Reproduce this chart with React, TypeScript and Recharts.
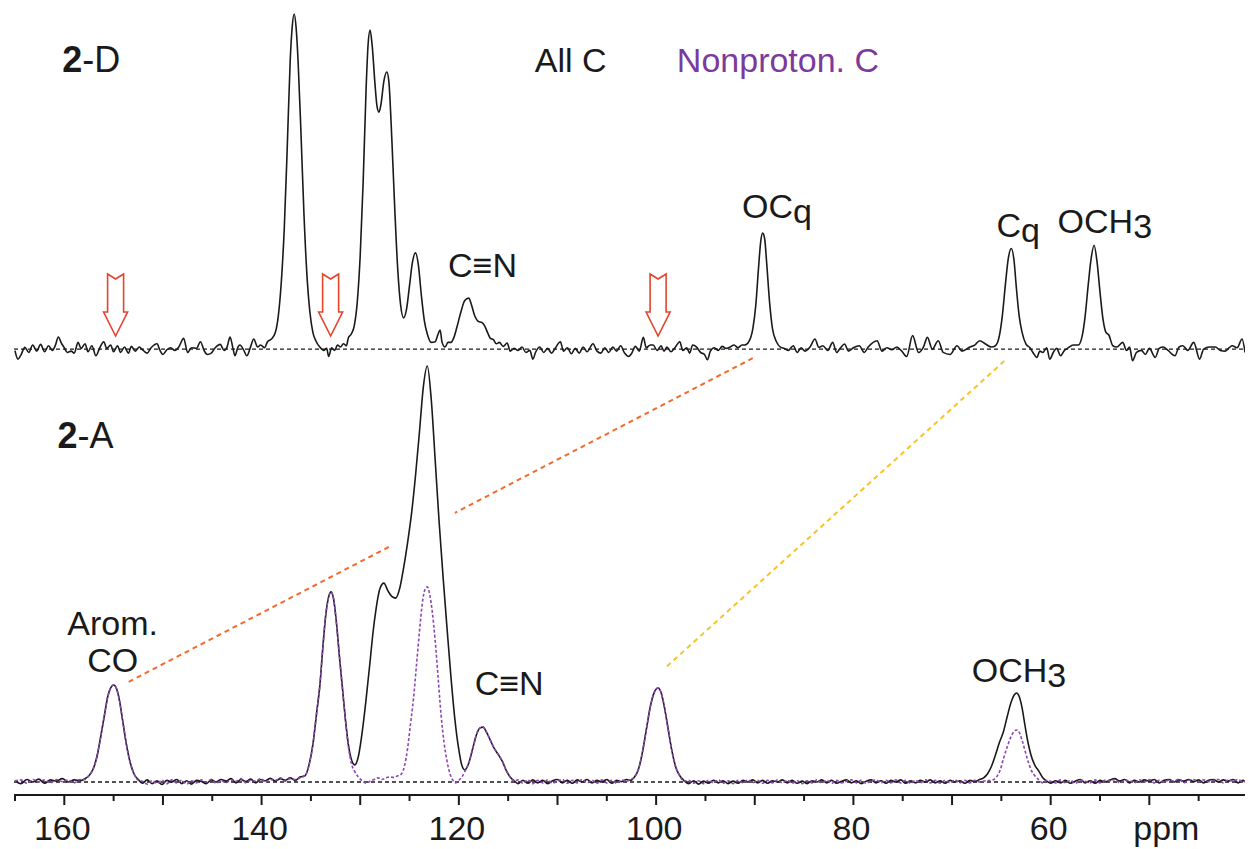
import { ComposedChart, Line, XAxis, YAxis, ReferenceLine, ReferenceDot } from "recharts";

// chemical shift (ppm) / normalized intensity pairs
const topTrace: [number, number][] = [
  [165.0, -0.005], [164.7, -0.03], [164.4, -0.018], [164.0, 0.005], [163.6, -0.01], [163.2, 0.012], [162.8, -0.006], [162.4, 0.014],
  [162.0, -0.008], [161.6, 0.01], [161.2, -0.004], [160.9, 0.012], [160.6, 0.036], [160.3, 0.018], [160.0, 0.004], [159.7, -0.01],
  [159.3, -0.006], [159.0, -0.012], [158.6, 0.02], [158.3, 0.002], [157.9, 0.016], [157.6, -0.008], [157.2, 0.01], [156.8, -0.02],
  [156.4, 0.004], [156.0, 0.022], [155.7, 0.002], [155.3, 0.012], [155.0, -0.008], [154.6, 0.01], [154.3, -0.01], [153.9, 0.006],
  [153.5, -0.012], [153.2, 0.008], [152.8, -0.006], [152.4, 0.006], [152.0, -0.004], [151.6, -0.012], [151.2, 0.004], [150.6, 0.016],
  [150.3, -0.004], [150.0, -0.016], [149.6, -0.002], [149.2, 0.004], [148.8, -0.004], [148.4, 0.006], [147.9, 0.032], [147.5, -0.01],
  [147.1, 0.004], [146.6, 0.002], [146.2, 0.022], [145.8, -0.006], [145.5, -0.016], [145.1, -0.012], [144.7, 0.004], [144.2, 0.014],
  [143.8, -0.004], [143.5, 0.006], [143.2, 0.036], [142.9, 0.002], [142.7, -0.02], [142.4, 0.006], [142.2, 0.012], [141.8, -0.004],
  [141.5, -0.02], [141.1, 0.008], [140.8, 0.03], [140.4, 0.006], [140.1, 0.012], [139.7, 0.004], [139.4, 0.022], [139.0, 0.03],
  [138.6, 0.05], [138.3, 0.1], [138.0, 0.2], [137.7, 0.36], [137.4, 0.6], [137.1, 0.86], [136.9, 0.96], [136.7, 1.0],
  [136.5, 0.96], [136.3, 0.86], [136.0, 0.64], [135.7, 0.4], [135.4, 0.22], [135.1, 0.11], [134.8, 0.05], [134.5, 0.025],
  [134.1, 0.006], [133.7, -0.004], [133.4, 0.002], [133.2, -0.022], [132.9, 0.004], [132.6, -0.004], [132.3, 0.012], [132.0, 0.006],
  [131.7, 0.016], [131.4, 0.01], [131.2, 0.034], [130.9, 0.045], [130.6, 0.07], [130.3, 0.14], [130.0, 0.28], [129.7, 0.5],
  [129.4, 0.78], [129.2, 0.91], [129.0, 0.952], [128.8, 0.91], [128.5, 0.79], [128.3, 0.725], [128.1, 0.707], [127.9, 0.73],
  [127.6, 0.8], [127.3, 0.827], [127.1, 0.8], [126.8, 0.63], [126.5, 0.42], [126.2, 0.24], [125.9, 0.13], [125.6, 0.093],
  [125.3, 0.12], [125.0, 0.19], [124.7, 0.26], [124.4, 0.287], [124.1, 0.25], [123.8, 0.16], [123.5, 0.085], [123.2, 0.045],
  [122.8, 0.02], [122.4, 0.022], [122.1, 0.045], [121.9, 0.057], [121.7, 0.02], [121.4, 0.006], [121.1, 0.02], [120.8, 0.02],
  [120.5, 0.035], [120.2, 0.065], [119.8, 0.11], [119.4, 0.145], [119.0, 0.152], [118.7, 0.13], [118.4, 0.1], [118.0, 0.082],
  [117.7, 0.08], [117.4, 0.07], [117.1, 0.05], [116.8, 0.032], [116.5, 0.028], [116.2, 0.016], [115.9, 0.02], [115.5, 0.008],
  [115.1, 0.018], [114.8, -0.006], [114.4, 0.002], [114.0, -0.004], [113.6, 0.006], [113.2, -0.01], [112.8, -0.004], [112.5, -0.03],
  [112.2, -0.008], [111.8, 0.006], [111.4, -0.01], [111.0, 0.002], [110.6, -0.012], [110.2, 0.004], [109.7, 0.022], [109.4, -0.006],
  [109.0, 0.004], [108.6, -0.014], [108.2, 0.002], [107.8, -0.012], [107.4, 0.006], [107.0, -0.008], [106.4, 0.016], [106.0, -0.006],
  [105.6, -0.012], [105.2, 0.004], [104.8, -0.01], [104.4, 0.006], [104.0, -0.006], [103.6, 0.01], [103.2, -0.012], [102.8, -0.022],
  [102.5, -0.014], [102.1, 0.008], [101.7, -0.006], [101.3, 0.035], [101.0, 0.004], [100.6, 0.012], [100.3, 0.012], [99.9, -0.004],
  [99.5, 0.01], [99.2, -0.006], [98.9, 0.006], [98.5, -0.008], [98.1, 0.004], [97.6, 0.022], [97.3, -0.004], [96.9, 0.004],
  [96.6, -0.012], [96.3, 0.012], [95.9, 0.006], [95.5, -0.01], [95.1, -0.016], [94.8, -0.032], [94.5, -0.006], [94.1, 0.004],
  [93.7, -0.004], [93.3, 0.008], [92.9, 0.002], [92.5, 0.006], [92.1, 0.012], [91.7, 0.004], [91.3, 0.012], [91.0, 0.012],
  [90.6, 0.022], [90.2, 0.06], [89.9, 0.13], [89.6, 0.25], [89.4, 0.32], [89.2, 0.346], [89.0, 0.33], [88.8, 0.26],
  [88.5, 0.14], [88.2, 0.06], [87.8, 0.022], [87.4, 0.006], [87.0, 0.002], [86.6, -0.004], [86.1, 0.01], [85.7, -0.01],
  [85.3, 0.004], [84.9, -0.006], [84.4, 0.006], [83.9, 0.03], [83.5, 0.005], [83.1, 0.01], [82.6, -0.004], [82.1, 0.02],
  [81.7, -0.01], [81.3, 0.004], [80.9, 0.015], [80.5, -0.006], [80.0, 0.004], [79.4, 0.01], [78.9, -0.01], [78.5, 0.006],
  [77.6, 0.025], [77.1, -0.006], [76.6, 0.004], [76.1, -0.002], [75.6, 0.006], [75.1, -0.006], [74.6, -0.022], [74.0, 0.04],
  [73.4, -0.01], [72.9, 0.006], [72.5, 0.035], [72.0, 0.0], [71.4, 0.025], [70.9, -0.01], [70.2, -0.016], [69.5, 0.01],
  [69.0, -0.006], [68.2, 0.006], [67.7, 0.012], [67.2, 0.025], [66.6, 0.015], [66.0, 0.006], [65.6, 0.01], [65.2, 0.04],
  [64.9, 0.1], [64.6, 0.19], [64.3, 0.27], [64.0, 0.3], [63.7, 0.26], [63.5, 0.19], [63.2, 0.1], [62.9, 0.05],
  [62.5, 0.015], [62.1, 0.004], [61.8, -0.01], [61.4, -0.025], [61.1, -0.006], [60.8, -0.01], [60.4, 0.004], [60.1, -0.03],
  [59.7, -0.008], [59.4, 0.002], [59.0, -0.02], [58.6, -0.004], [58.3, 0.002], [57.7, 0.012], [57.2, 0.012], [56.8, 0.04],
  [56.5, 0.1], [56.2, 0.19], [55.9, 0.27], [55.6, 0.31], [55.3, 0.26], [55.0, 0.17], [54.7, 0.09], [54.4, 0.05],
  [54.1, 0.042], [53.7, 0.01], [53.3, 0.006], [52.7, 0.02], [52.3, -0.004], [52.0, 0.006], [51.7, -0.035], [51.3, -0.01],
  [50.8, -0.004], [50.4, -0.016], [50.0, 0.002], [49.4, -0.025], [49.0, 0.002], [48.6, 0.006], [48.1, -0.004], [47.4, -0.02],
  [47.0, 0.006], [46.6, 0.01], [46.1, -0.004], [45.5, 0.02], [44.9, -0.03], [44.5, 0.0], [43.9, 0.006], [43.3, 0.006],
  [42.8, -0.004], [42.3, -0.006], [41.9, 0.004], [41.6, 0.01], [41.1, 0.004], [40.6, 0.03], [40.3, -0.01],
];

const bottomAllC: [number, number][] = [
  [165.0, 0.004], [164.4, -0.004], [163.8, 0.006], [163.2, 0.0], [162.6, 0.007], [162.0, -0.003], [161.4, 0.005], [160.8, 0.002],
  [160.2, 0.008], [159.6, 0.0], [159.0, 0.005], [158.4, 0.003], [157.9, 0.008], [157.5, 0.015], [157.1, 0.03], [156.7, 0.06],
  [156.3, 0.11], [155.9, 0.165], [155.6, 0.205], [155.3, 0.226], [155.0, 0.233], [154.7, 0.224], [154.4, 0.195], [154.1, 0.15],
  [153.7, 0.09], [153.3, 0.045], [152.9, 0.018], [152.5, 0.006], [152.1, -0.003], [151.6, 0.005], [151.1, -0.004], [150.6, 0.003],
  [150.1, -0.006], [149.6, 0.004], [149.1, 0.0], [148.6, 0.006], [148.1, -0.004], [147.6, 0.003], [147.1, -0.005], [146.6, 0.004],
  [146.1, 0.001], [145.6, -0.004], [145.1, 0.005], [144.6, 0.0], [144.1, 0.006], [143.6, 0.002], [143.1, 0.008], [142.6, -0.002],
  [142.1, 0.006], [141.6, 0.001], [141.1, 0.007], [140.6, -0.002], [140.1, 0.006], [139.6, 0.003], [139.1, 0.009], [138.6, 0.002],
  [138.1, 0.008], [137.6, 0.004], [137.1, 0.01], [136.6, 0.004], [136.1, 0.012], [135.6, 0.015], [135.2, 0.04], [134.8, 0.09],
  [134.4, 0.17], [134.1, 0.23], [133.8, 0.32], [133.5, 0.4], [133.2, 0.445], [132.95, 0.457], [132.7, 0.44], [132.4, 0.38],
  [132.1, 0.3], [131.8, 0.225], [131.5, 0.15], [131.2, 0.09], [130.9, 0.055], [130.55, 0.041], [130.2, 0.06], [129.8, 0.12],
  [129.4, 0.2], [129.0, 0.29], [128.7, 0.36], [128.4, 0.415], [128.0, 0.465], [127.6, 0.478], [127.2, 0.46], [126.8, 0.446],
  [126.4, 0.442], [126.0, 0.465], [125.6, 0.515], [125.2, 0.575], [124.8, 0.645], [124.4, 0.735], [124.0, 0.84], [123.6, 0.95],
  [123.2, 1.0], [122.8, 0.92], [122.4, 0.774], [122.0, 0.625], [121.6, 0.493], [121.2, 0.37], [120.8, 0.252], [120.4, 0.15],
  [120.0, 0.077], [119.7, 0.04], [119.4, 0.029], [119.0, 0.045], [118.6, 0.08], [118.2, 0.115], [117.85, 0.13], [117.55, 0.132],
  [117.2, 0.12], [116.8, 0.1], [116.4, 0.08], [116.0, 0.066], [115.6, 0.05], [115.2, 0.028], [114.8, 0.012], [114.4, 0.003],
  [114.0, -0.004], [113.5, 0.004], [113.0, -0.003], [112.5, 0.005], [112.0, -0.002], [111.5, 0.004], [111.0, -0.004], [110.5, 0.003],
  [110.0, 0.006], [109.5, -0.002], [109.0, 0.004], [108.5, -0.003], [108.0, 0.005], [107.5, 0.0], [107.0, 0.006], [106.5, -0.002],
  [106.0, 0.004], [105.5, 0.0], [105.0, 0.006], [104.5, -0.003], [104.0, 0.004], [103.5, 0.001], [103.0, 0.006], [102.6, 0.004],
  [102.2, 0.012], [101.8, 0.03], [101.4, 0.07], [101.0, 0.125], [100.6, 0.18], [100.2, 0.215], [99.8, 0.226], [99.5, 0.215],
  [99.2, 0.185], [98.8, 0.13], [98.4, 0.075], [98.0, 0.035], [97.6, 0.015], [97.2, 0.004], [96.7, -0.004], [96.2, 0.003],
  [95.7, -0.005], [95.2, 0.002], [94.7, -0.003], [94.2, 0.004], [93.7, -0.002], [93.2, 0.003], [92.7, -0.004], [92.2, 0.002],
  [91.7, -0.003], [91.2, 0.004], [90.7, 0.0], [90.2, 0.005], [89.7, -0.002], [89.2, 0.004], [88.7, -0.003], [88.2, 0.003],
  [87.7, 0.0], [87.2, 0.005], [86.7, -0.002], [86.2, 0.004], [85.7, -0.003], [85.2, 0.002], [84.7, -0.004], [84.2, 0.003],
  [83.7, 0.0], [83.2, 0.005], [82.7, -0.002], [82.2, 0.004], [81.7, -0.003], [81.2, 0.002], [80.7, 0.005], [80.2, -0.002],
  [79.7, 0.003], [79.2, -0.004], [78.7, 0.002], [78.2, 0.005], [77.7, -0.002], [77.2, 0.003], [76.7, -0.003], [76.2, 0.004],
  [75.7, 0.0], [75.2, 0.005], [74.7, -0.003], [74.2, 0.003], [73.7, -0.002], [73.2, 0.004], [72.7, 0.0], [72.2, 0.005],
  [71.7, -0.002], [71.2, 0.003], [70.7, -0.003], [70.2, 0.004], [69.7, 0.0], [69.2, 0.003], [68.7, -0.003], [68.2, 0.004],
  [67.7, 0.001], [67.2, 0.006], [66.8, 0.01], [66.4, 0.02], [66.0, 0.038], [65.6, 0.065], [65.2, 0.095], [64.8, 0.12],
  [64.4, 0.158], [64.0, 0.193], [63.7, 0.209], [63.45, 0.214], [63.2, 0.206], [62.9, 0.178], [62.6, 0.135], [62.3, 0.095],
  [62.0, 0.065], [61.6, 0.04], [61.2, 0.026], [60.8, 0.01], [60.4, 0.002], [60.0, -0.003], [59.5, 0.003], [59.0, -0.002],
  [58.5, 0.004], [58.0, -0.003], [57.5, 0.002], [57.0, 0.006], [56.5, -0.002], [56.0, 0.003], [55.5, -0.003], [55.0, 0.004],
  [54.5, 0.0], [54.0, 0.005], [53.5, 0.008], [53.0, 0.002], [52.5, 0.006], [52.0, -0.002], [51.5, 0.004], [51.0, 0.0],
  [50.5, 0.005], [50.0, 0.002], [49.5, 0.006], [49.0, -0.002], [48.5, 0.004], [48.0, 0.006], [47.5, 0.0], [47.0, 0.005],
  [46.5, 0.002], [46.0, 0.006], [45.5, 0.001], [45.0, 0.005], [44.5, -0.002], [44.0, 0.004], [43.5, 0.006], [43.0, 0.0],
  [42.5, 0.005], [42.0, 0.002], [41.5, 0.006], [41.0, -0.002], [40.5, 0.004], [40.3, 0.0],
];

const bottomNonproton: [number, number][] = [
  [165.0, 0.002], [164.4, 0.005], [163.8, -0.003], [163.2, 0.006], [162.6, 0.0], [162.0, 0.005], [161.4, -0.002], [160.8, 0.006],
  [160.2, 0.001], [159.6, 0.005], [159.0, -0.002], [158.4, 0.006], [157.9, 0.006], [157.5, 0.016], [157.1, 0.03], [156.7, 0.06],
  [156.3, 0.11], [155.9, 0.165], [155.6, 0.205], [155.3, 0.226], [155.0, 0.233], [154.7, 0.224], [154.4, 0.195], [154.1, 0.15],
  [153.7, 0.09], [153.3, 0.045], [152.9, 0.018], [152.5, 0.004], [152.1, 0.002], [151.6, -0.005], [151.1, 0.003], [150.6, -0.003],
  [150.1, 0.004], [149.6, -0.004], [149.1, 0.005], [148.6, -0.002], [148.1, 0.004], [147.6, -0.005], [147.1, 0.003], [146.6, -0.002],
  [146.1, 0.005], [145.6, 0.0], [145.1, 0.006], [144.6, -0.003], [144.1, 0.003], [143.6, -0.002], [143.1, 0.005], [142.6, 0.002],
  [142.1, 0.008], [141.6, -0.002], [141.1, 0.004], [140.6, 0.002], [140.1, 0.008], [139.6, 0.0], [139.1, 0.006], [138.6, 0.004],
  [138.1, 0.01], [137.6, 0.002], [137.1, 0.008], [136.6, 0.006], [136.1, 0.01], [135.6, 0.015], [135.2, 0.04], [134.8, 0.09],
  [134.4, 0.17], [134.1, 0.23], [133.8, 0.32], [133.5, 0.4], [133.2, 0.445], [132.95, 0.457], [132.7, 0.44], [132.4, 0.38],
  [132.1, 0.3], [131.8, 0.225], [131.5, 0.15], [131.2, 0.085], [130.9, 0.045], [130.55, 0.025], [130.2, 0.012], [129.8, 0.003],
  [129.4, -0.003], [129.0, 0.002], [128.6, 0.006], [128.2, 0.01], [127.8, 0.006], [127.4, 0.01], [127.0, 0.012], [126.6, 0.011],
  [126.2, 0.015], [125.8, 0.02], [125.5, 0.04], [125.2, 0.08], [124.9, 0.14], [124.6, 0.2], [124.3, 0.28], [124.0, 0.36],
  [123.7, 0.43], [123.45, 0.462], [123.2, 0.469], [122.95, 0.45], [122.7, 0.41], [122.4, 0.34], [122.1, 0.25], [121.8, 0.16],
  [121.5, 0.095], [121.2, 0.05], [120.9, 0.02], [120.6, 0.004], [120.3, -0.002], [120.0, 0.004], [119.7, 0.012], [119.4, 0.025],
  [119.0, 0.045], [118.6, 0.08], [118.2, 0.115], [117.85, 0.13], [117.55, 0.132], [117.2, 0.12], [116.8, 0.1], [116.4, 0.08],
  [116.0, 0.066], [115.6, 0.05], [115.2, 0.028], [114.8, 0.012], [114.4, 0.002], [114.0, 0.005], [113.5, -0.003], [113.0, 0.005],
  [112.5, -0.004], [112.0, 0.004], [111.5, -0.002], [111.0, 0.005], [110.5, -0.003], [110.0, 0.002], [109.5, 0.006], [109.0, -0.003],
  [108.5, 0.004], [108.0, -0.002], [107.5, 0.006], [107.0, -0.002], [106.5, 0.004], [106.0, -0.003], [105.5, 0.005], [105.0, -0.002],
  [104.5, 0.004], [104.0, -0.003], [103.5, 0.005], [103.0, 0.002], [102.6, 0.006], [102.2, 0.012], [101.8, 0.03], [101.4, 0.07],
  [101.0, 0.125], [100.6, 0.18], [100.2, 0.215], [99.8, 0.226], [99.5, 0.215], [99.2, 0.185], [98.8, 0.13], [98.4, 0.075],
  [98.0, 0.035], [97.6, 0.015], [97.2, 0.002], [96.7, 0.004], [96.2, -0.003], [95.7, 0.003], [95.2, -0.004], [94.7, 0.004],
  [94.2, -0.002], [93.7, 0.005], [93.2, -0.003], [92.7, 0.003], [92.2, -0.004], [91.7, 0.004], [91.2, -0.002], [90.7, 0.005],
  [90.2, -0.002], [89.7, 0.004], [89.2, -0.003], [88.7, 0.004], [88.2, -0.002], [87.7, 0.005], [87.2, -0.002], [86.7, 0.004],
  [86.2, -0.003], [85.7, 0.003], [85.2, -0.004], [84.7, 0.003], [84.2, -0.002], [83.7, 0.005], [83.2, -0.002], [82.7, 0.004],
  [82.2, -0.003], [81.7, 0.004], [81.2, -0.002], [80.7, 0.002], [80.2, 0.005], [79.7, -0.002], [79.2, 0.004], [78.7, -0.003],
  [78.2, 0.003], [77.7, 0.005], [77.2, -0.002], [76.7, 0.004], [76.2, -0.002], [75.7, 0.005], [75.2, -0.002], [74.7, 0.004],
  [74.2, -0.003], [73.7, 0.004], [73.2, -0.002], [72.7, 0.005], [72.2, -0.002], [71.7, 0.004], [71.2, -0.003], [70.7, 0.004],
  [70.2, -0.002], [69.7, 0.005], [69.2, -0.002], [68.7, 0.004], [68.2, -0.002], [67.7, 0.004], [67.2, 0.0], [66.6, 0.003],
  [66.0, 0.004], [65.5, 0.012], [65.1, 0.03], [64.8, 0.055], [64.4, 0.085], [64.0, 0.11], [63.7, 0.122], [63.45, 0.125],
  [63.2, 0.12], [62.9, 0.1], [62.6, 0.075], [62.3, 0.05], [62.0, 0.03], [61.6, 0.015], [61.2, 0.005], [60.8, -0.002],
  [60.4, 0.004], [60.0, 0.002], [59.5, -0.002], [59.0, 0.005], [58.5, -0.002], [58.0, 0.004], [57.5, -0.003], [57.0, 0.004],
  [56.5, 0.002], [56.0, -0.002], [55.5, 0.005], [55.0, -0.002], [54.5, 0.004], [54.0, 0.002], [53.5, 0.006], [53.0, -0.002],
  [52.5, 0.004], [52.0, 0.003], [51.5, -0.002], [51.0, 0.005], [50.5, 0.0], [50.0, 0.006], [49.5, -0.002], [49.0, 0.004],
  [48.5, 0.0], [48.0, 0.005], [47.5, 0.002], [47.0, 0.007], [46.5, -0.002], [46.0, 0.004], [45.5, 0.006], [45.0, 0.0],
  [44.5, 0.005], [44.0, 0.001], [43.5, 0.004], [43.0, 0.006], [42.5, -0.002], [42.0, 0.005], [41.5, 0.002], [41.0, 0.006],
  [40.5, 0.0], [40.3, 0.003],
];

// hollow arrows marking suppressed peaks in the dipolar-dephased spectrum
const arrowPpm = [154.8, 133.0, 99.8];

const ppmTicks = [165, 160, 155, 150, 145, 140, 135, 130, 125, 120, 115, 110, 105, 100, 95, 90, 85, 80, 75, 70, 65, 60, 55, 50, 45];

type Part = { t: string; bold?: boolean; sub?: boolean };
type Note = { ppm: number; value: number; axis: "top" | "bot"; anchor: "start" | "middle"; color?: string; size?: number; parts: Part[] };

const notes: Note[] = [
  { ppm: 160.2, value: 0.827, axis: "top", anchor: "start", size: 36, parts: [{ t: "2", bold: true }, { t: "-D" }] },
  { ppm: 112.3, value: 0.827, axis: "top", anchor: "start", parts: [{ t: "All C" }] },
  { ppm: 97.9, value: 0.827, axis: "top", anchor: "start", color: "#7b3a9c", parts: [{ t: "Nonproton. C" }] },
  { ppm: 117.6, value: 0.215, axis: "top", anchor: "middle", parts: [{ t: "C≡N" }] },
  { ppm: 91.3, value: 0.391, axis: "top", anchor: "start", parts: [{ t: "OC" }, { t: "q", sub: true }] },
  { ppm: 65.5, value: 0.334, axis: "top", anchor: "start", parts: [{ t: "C" }, { t: "q", sub: true }] },
  { ppm: 59.3, value: 0.346, axis: "top", anchor: "start", parts: [{ t: "OCH" }, { t: "3", sub: true }] },
  { ppm: 160.7, value: 0.803, axis: "bot", anchor: "start", size: 36, parts: [{ t: "2", bold: true }, { t: "-A" }] },
  { ppm: 155.1, value: 0.353, axis: "bot", anchor: "middle", parts: [{ t: "Arom." }] },
  { ppm: 155.1, value: 0.264, axis: "bot", anchor: "middle", parts: [{ t: "CO" }] },
  { ppm: 114.9, value: 0.209, axis: "bot", anchor: "middle", parts: [{ t: "C≡N" }] },
  { ppm: 68.0, value: 0.24, axis: "bot", anchor: "start", parts: [{ t: "OCH" }, { t: "3", sub: true }] },
];

const FONT = '"Liberation Sans", Arial, Helvetica, sans-serif';
const INK = "#1a1a1a";

const toRows = (pairs: [number, number][]) => pairs.map(([ppm, v]) => ({ ppm, v }));

function PpmTick(props: any) {
  const { x, y, payload } = props;
  const v = payload.value as number;
  const major = v % 10 === 0;
  const label = v === 50 ? "ppm" : v % 20 === 0 ? String(v) : null;
  return (
    <g>
      <line x1={x} x2={x} y1={y} y2={y + (major ? 10 : 6)} stroke={INK} strokeWidth={2} />
      {label && (
        <text x={x + (v === 50 ? 17 : -2)} y={y + 45} textAnchor="middle" fontSize={34} fontFamily={FONT} fill={INK}>
          {label}
        </text>
      )}
    </g>
  );
}

function HollowArrow(props: any) {
  const { cx, cy } = props;
  const pts = [[-8, -62], [0, -57], [8, -62], [8, -24], [12, -24], [0, 0], [-12, -24], [-8, -24]]
    .map(([dx, dy]) => `${cx + dx},${cy + dy}`)
    .join(" ");
  return <polygon points={pts} fill="#fff" stroke="#e4442b" strokeWidth={1.6} strokeLinejoin="miter" />;
}

function noteShape(n: Note) {
  return (p: any) => (
    <text x={p.cx} y={p.cy} textAnchor={n.anchor} fontSize={n.size ?? 34} fontFamily={FONT} fill={n.color ?? INK}>
      {n.parts.map((part, i) => (
        <tspan key={i} fontWeight={part.bold ? "bold" : "normal"} dy={part.sub ? 5 : 0}>
          {part.t}
        </tspan>
      ))}
    </text>
  );
}

export default function App() {
  return (
    <div style={{ position: "absolute", left: 0, top: 0, width: 1249, height: 849, background: "#fff" }}>
      <ComposedChart width={1249} height={849} margin={{ top: 5, right: 4, bottom: 0, left: 14 }}>
        <XAxis
          dataKey="ppm" type="number" domain={[40.3, 165.1]} reversed allowDataOverflow
          ticks={ppmTicks} interval={0} height={54} tickSize={0} tickMargin={0} tickLine={false}
          axisLine={{ stroke: INK, strokeWidth: 2 }} tick={<PpmTick />}
        />
        <YAxis yAxisId="top" type="number" hide domain={[-1.331, 1.027]} allowDataOverflow />
        <YAxis yAxisId="bot" type="number" hide domain={[-0.03125, 1.8678]} allowDataOverflow />

        <ReferenceLine yAxisId="top" y={0} stroke={INK} strokeWidth={1.3} strokeDasharray="4 3" />
        <ReferenceLine yAxisId="bot" y={0} stroke={INK} strokeWidth={1.3} strokeDasharray="4 3" />

        <ReferenceLine yAxisId="bot" segment={[{ x: 90.2, y: 1.019 }, { x: 120.4, y: 0.647 }]} stroke="#f26a2e" strokeWidth={2} strokeDasharray="5 4" ifOverflow="visible" />
        <ReferenceLine yAxisId="bot" segment={[{ x: 127.1, y: 0.565 }, { x: 153.7, y: 0.238 }]} stroke="#f26a2e" strokeWidth={2} strokeDasharray="5 4" ifOverflow="visible" />
        <ReferenceLine yAxisId="bot" segment={[{ x: 64.7, y: 1.012 }, { x: 99.0, y: 0.276 }]} stroke="#f7c325" strokeWidth={2} strokeDasharray="5 4" ifOverflow="visible" />

        <Line yAxisId="top" data={toRows(topTrace)} dataKey="v" type="monotone" stroke={INK} strokeWidth={1.6} dot={false} isAnimationActive={false} />
        <Line yAxisId="bot" data={toRows(bottomAllC)} dataKey="v" type="monotone" stroke={INK} strokeWidth={1.6} dot={false} isAnimationActive={false} />
        <Line yAxisId="bot" data={toRows(bottomNonproton)} dataKey="v" type="monotone" stroke="#8b48b0" strokeWidth={1.6} strokeDasharray="3 2" dot={false} isAnimationActive={false} />

        {arrowPpm.map((ppm) => (
          <ReferenceDot key={ppm} yAxisId="top" x={ppm} y={0.039} r={0} ifOverflow="visible" shape={(p: any) => <HollowArrow {...p} />} />
        ))}
        {notes.map((n, i) => (
          <ReferenceDot key={i} yAxisId={n.axis} x={n.ppm} y={n.value} r={0} ifOverflow="visible" shape={noteShape(n)} />
        ))}
      </ComposedChart>
    </div>
  );
}
